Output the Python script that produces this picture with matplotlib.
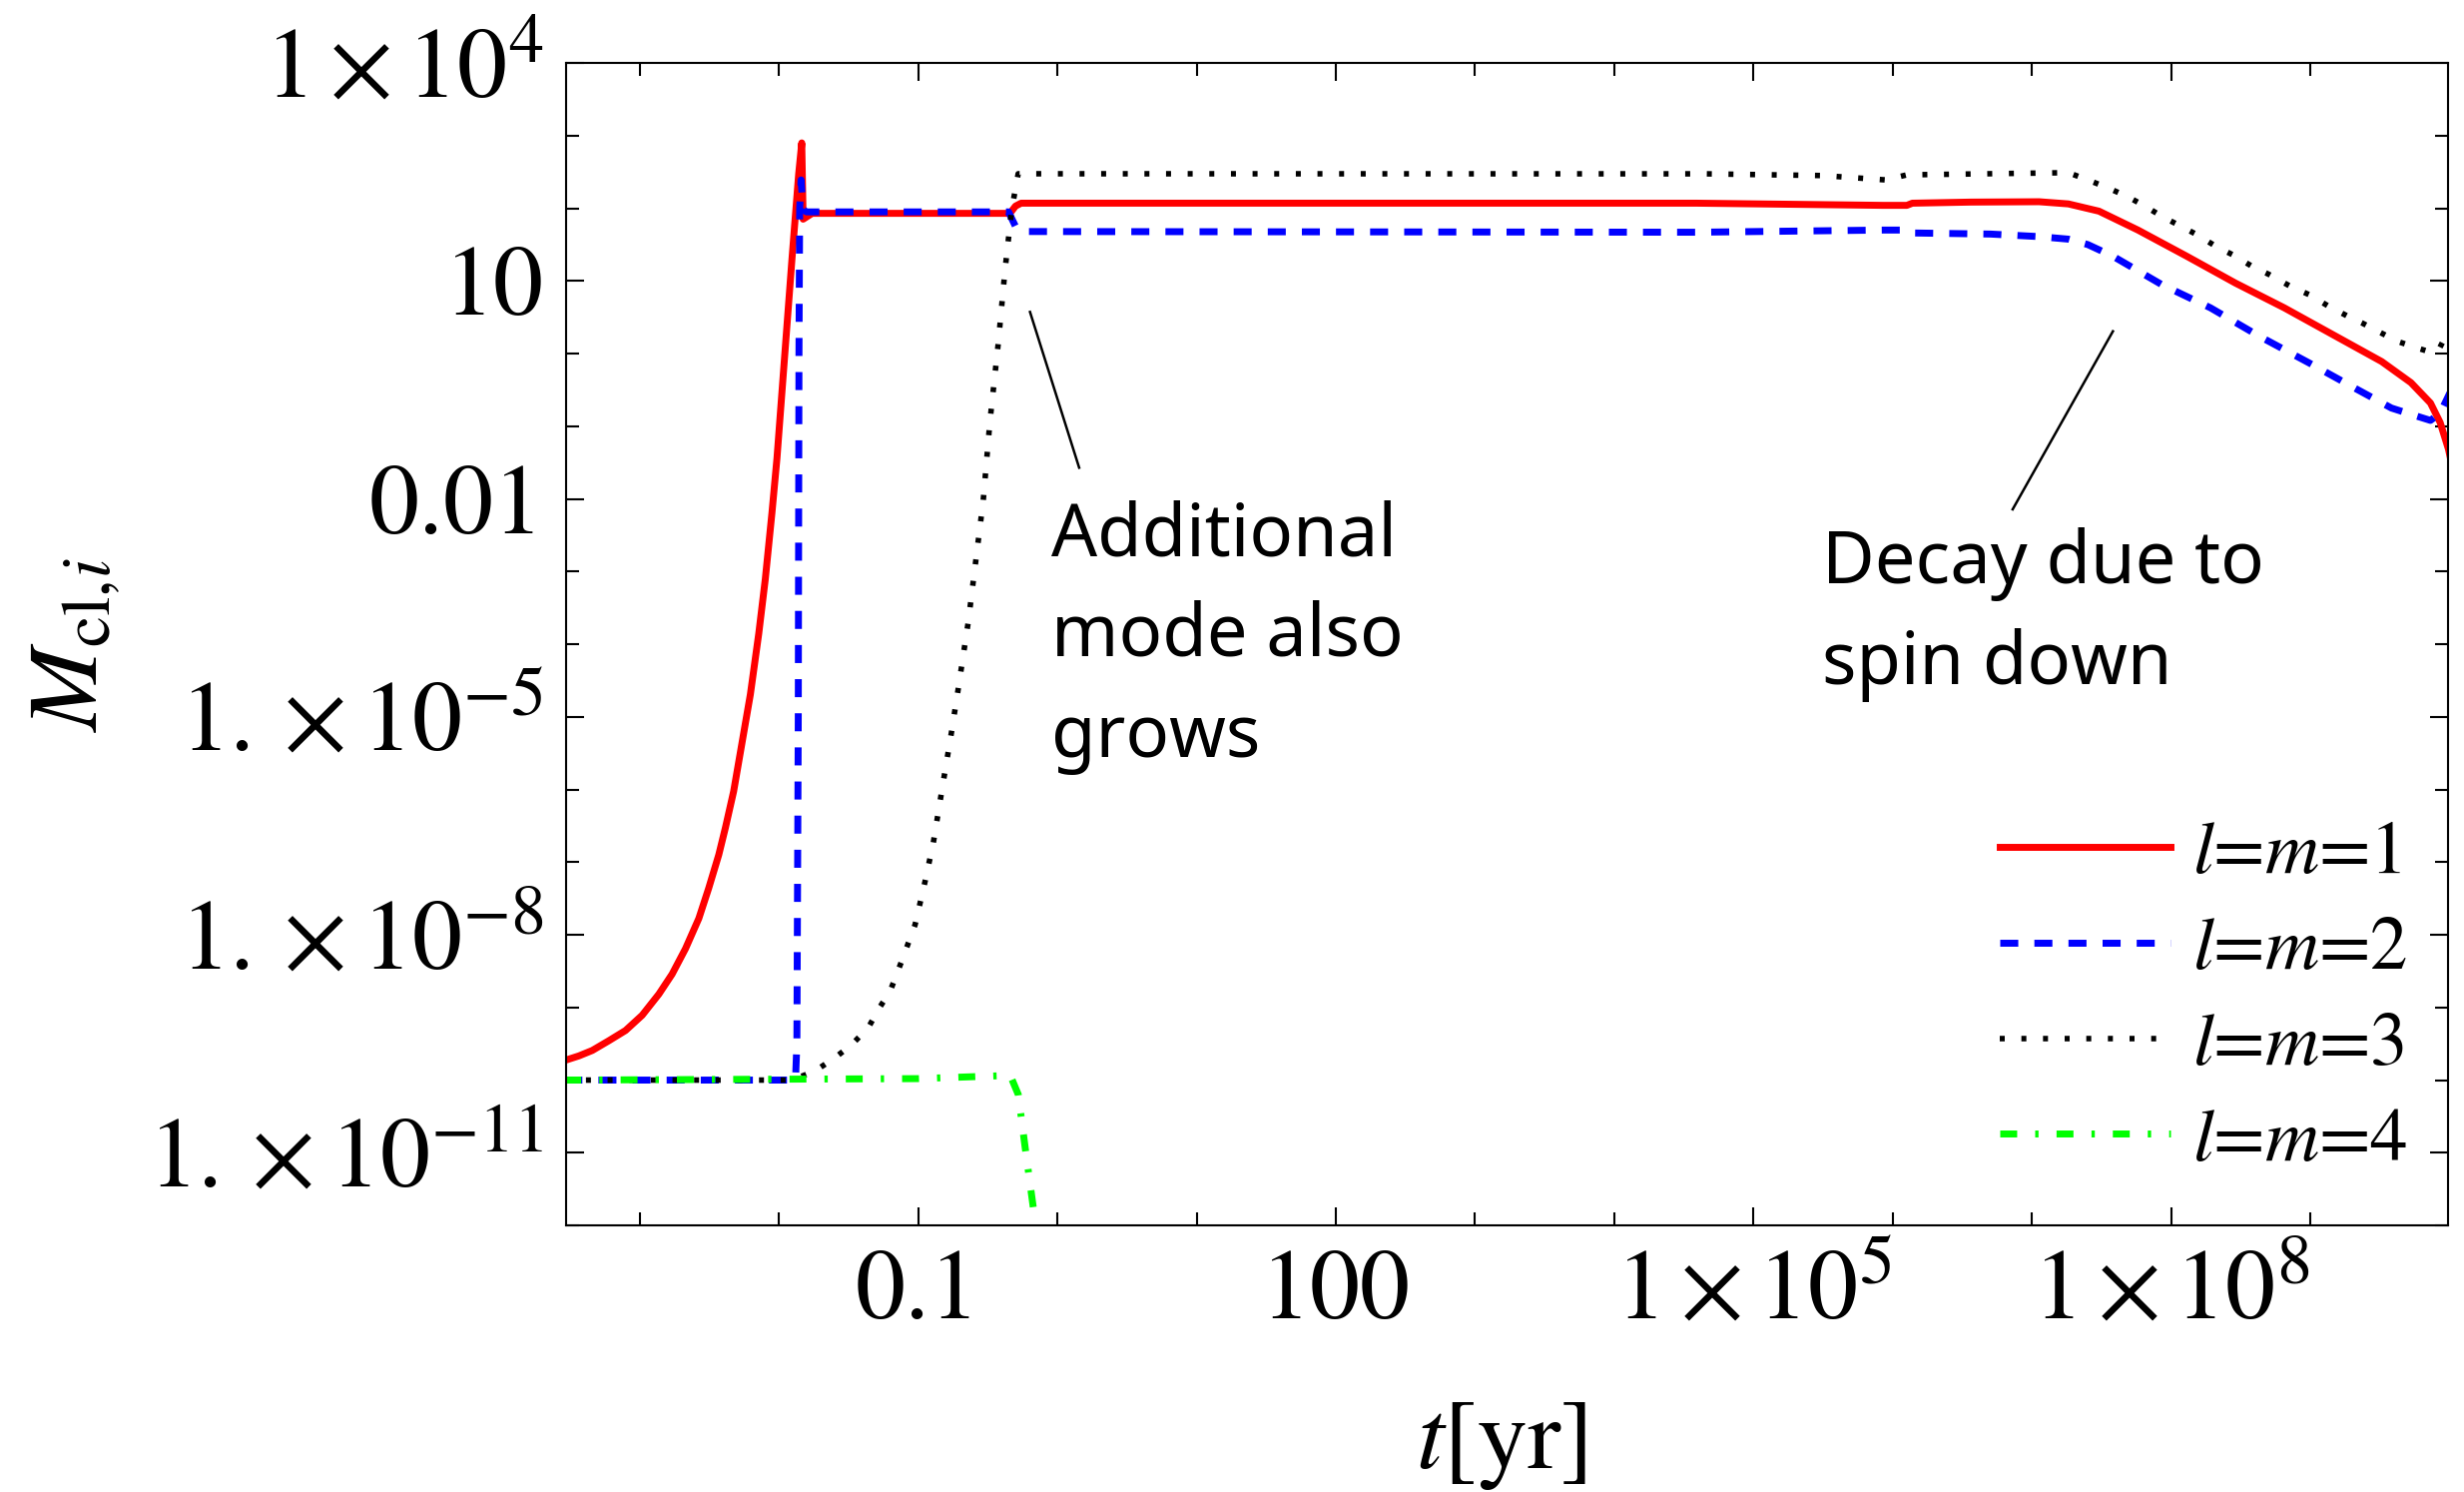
import numpy as np
import matplotlib
matplotlib.use("Agg")
import matplotlib.pyplot as plt
from matplotlib.ticker import FixedLocator, FixedFormatter, LogLocator, NullFormatter

plt.rcParams['font.family'] = 'STIXGeneral'
plt.rcParams['mathtext.fontset'] = 'stix'
plt.rcParams['lines.scale_dashes'] = False

# cloud mass of each mode vs time, given as log10(t [yr]) and log10(M)
logt_11 = [-3.542, -3.435, -3.339, -3.220, -3.100, -2.981, -2.861, -2.766, -2.670, -2.574,
           -2.503, -2.431, -2.383, -2.324, -2.264, -2.204, -2.144, -2.097, -2.049, -2.013,
           -1.977, -1.941, -1.905, -1.881, -1.857, -1.835, -1.825, -1.76, -0.34, -0.30,
           -0.26, 4.59, 5.93, 6.10, 6.14, 6.56, 7.05, 7.26, 7.48, 7.76, 8.11, 8.46, 8.81,
           9.16, 9.51, 9.72, 9.86, 9.93, 9.99, 10.01]
logM_11 = [-9.733, -9.667, -9.592, -9.458, -9.317, -9.108, -8.817, -8.542, -8.192, -7.775,
           -7.358, -6.900, -6.525, -6.025, -5.358, -4.692, -3.858, -3.108, -2.192, -1.442,
           -0.525, 0.392, 1.308, 1.892, 2.475, 2.90, 1.85, 1.93, 1.93, 2.03,
           2.07, 2.07, 2.04, 2.04, 2.07, 2.085, 2.09, 2.06, 1.96, 1.70, 1.34, 0.97, 0.63,
           0.26, -0.11, -0.40, -0.68, -0.95, -1.32, -1.50]

logt_22 = [-3.54, -1.88, -1.87, -1.86, -1.855, -1.85, -1.84, -1.825, -1.80, -0.35, -0.30,
           -0.26, 4.59, 5.93, 6.10, 6.14, 6.70, 7.05, 7.26, 7.40, 7.58, 7.93, 8.28, 8.63,
           8.99, 9.34, 9.58, 9.76, 9.86, 9.93, 10.0]
logM_22 = [-10.0, -10.0, -9.5, -5.0, 0.0, 2.0, 2.39, 1.98, 1.95, 1.95, 1.75,
           1.68, 1.67, 1.70, 1.70, 1.66, 1.645, 1.61, 1.575, 1.50, 1.34, 0.95, 0.63, 0.24,
           -0.13, -0.50, -0.75, -0.86, -0.92, -0.82, -0.54]

logt_33 = [-3.54, -1.905, -1.74, -1.595, -1.475, -1.356, -1.284, -1.20, -1.117, -1.021,
           -0.95, -0.89, -0.83, -0.758, -0.711, -0.639, -0.591, -0.532, -0.484, -0.424,
           -0.376, -0.328, -0.281, 4.66, 5.5, 5.95, 6.10, 7.26, 7.40, 7.545, 7.685, 7.81,
           7.93, 8.05, 8.18, 8.32, 8.44, 8.58, 8.70, 8.85, 8.99, 9.13, 9.27, 9.37, 9.48,
           9.62, 9.76, 9.86, 9.92, 9.97, 10.0]
logM_33 = [-10.0, -10.0, -9.875, -9.69, -9.51, -9.275, -9.025, -8.775, -8.36, -7.86,
           -7.27, -6.73, -6.025, -5.19, -4.61, -3.69, -2.94, -2.025, -0.94, 0.14,
           1.14, 1.975, 2.475, 2.474, 2.45, 2.39, 2.46, 2.49, 2.39, 2.28, 2.16, 2.03,
           1.89, 1.77, 1.64, 1.475, 1.36, 1.20, 1.09, 0.93, 0.81, 0.65, 0.51, 0.42, 0.31,
           0.17, 0.08, 0.02, 0.055, 0.24, 0.35]

logt_44 = [-3.54, -1.0, -0.40, -0.35, -0.33, -0.28, -0.23, -0.165, -0.12]
logM_44 = [-10.0, -9.98, -9.94, -9.93, -9.97, -10.2, -10.94, -11.86, -12.6]

xticks = [1e-1, 1e2, 1e5, 1e8]
xticklabels = ['0.1', '100', r'$1\times10^{5}$', r'$1\times10^{8}$']
yticks = [1e-11, 1e-8, 1e-5, 1e-2, 1e1, 1e4]
yticklabels = [r'$1.\times10^{-11}$', r'$1.\times10^{-8}$', r'$1.\times10^{-5}$',
               '0.01', '10', r'$1\times10^{4}$']

fig = plt.figure(figsize=(12.34, 7.47), dpi=200)
ax = fig.add_axes([0.2297, 0.1787, 0.7638, 0.7791])

ax.plot(10**np.array(logt_11), 10**np.array(logM_11), color='#ff0000', lw=2.5,
        label=r'$l$=$m$=1')
ax.plot(10**np.array(logt_22), 10**np.array(logM_22), color='#0000ff', lw=2.5,
        dashes=(6.5, 5.8), dash_capstyle='butt', label=r'$l$=$m$=2')
ax.plot(10**np.array(logt_33), 10**np.array(logM_33), color='black', lw=2.0,
        dashes=(1.8, 6.0), dash_capstyle='butt', label=r'$l$=$m$=3')
ax.plot(10**np.array(logt_44), 10**np.array(logM_44), color='#00ff00', lw=2.5,
        dashes=(6.1, 6.5, 1.2, 6.5), dash_capstyle='butt', label=r'$l$=$m$=4')

ax.set_xscale('log')
ax.set_yscale('log')
ax.set_xlim(10**-3.528, 10**9.986)
ax.set_ylim(1e-12, 1e4)

ax.xaxis.set_major_locator(FixedLocator(xticks))
ax.xaxis.set_major_formatter(FixedFormatter(xticklabels))
ax.xaxis.set_minor_locator(LogLocator(base=10, subs=(1.0,), numticks=30))
ax.xaxis.set_minor_formatter(NullFormatter())
ax.yaxis.set_major_locator(FixedLocator(yticks))
ax.yaxis.set_major_formatter(FixedFormatter(yticklabels))
ax.yaxis.set_minor_locator(LogLocator(base=10, subs=(1.0,), numticks=30))
ax.yaxis.set_minor_formatter(NullFormatter())

ax.tick_params(which='both', direction='in', top=True, right=True, width=0.75)
ax.tick_params(which='major', length=6.5, labelsize=36)
ax.tick_params(which='minor', length=4.7)
ax.tick_params(axis='x', which='major', pad=9)
ax.tick_params(axis='y', which='major', pad=8)
for sp in ax.spines.values():
    sp.set_linewidth(0.75)

ax.set_xlabel(r'$t$[yr]', fontsize=36)
ax.xaxis.set_label_coords(0.497, -0.15)
ax.set_ylabel(r'$M_{\mathrm{cl},\!i}$', fontsize=36)
ax.yaxis.set_label_coords(-0.236, 0.5)

# annotations (y is the baseline of the last line)
ax.plot([10**-0.196, 10**0.157], [10**0.573, 10**-1.571], color='black', lw=0.9)
ax.text(10**-0.044, 10**-5.55, 'Additional\nmode also\ngrows', family='Noto Sans',
        fontsize=26, va='baseline', ha='left', linespacing=1.48)
ax.plot([10**7.58, 10**6.86], [10**0.307, 10**-2.144], color='black', lw=0.9)
ax.text(10**(-1 + (1825 - 919.6) / 139.5), 10**-4.55, 'Decay due to\nspin down',
        family='Noto Sans', fontsize=26, va='baseline', ha='left', linespacing=1.48)

ax.legend(loc='upper left', bbox_to_anchor=(0.7618, 0.348), frameon=False,
          borderpad=0, borderaxespad=0, fontsize=27, handlelength=2.28,
          handletextpad=0.3, labelspacing=0.35)

fig.savefig('out.png', dpi=200)
